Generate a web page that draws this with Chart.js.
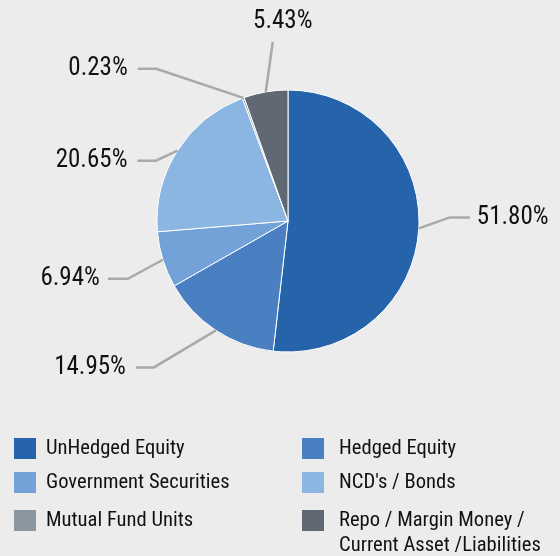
<!DOCTYPE html>
<html>
<head>
<meta charset="utf-8">
<script src="https://cdn.jsdelivr.net/npm/chart.js@4/dist/chart.umd.min.js"></script>
<style>
  html, body { margin:0; padding:0; background:#ebeceb; }
  #wrap { position:relative; width:560px; height:556px; overflow:hidden; background:#ebeceb; }
  #c { position:absolute; left:0; top:0; }
  .lg-box { position:absolute; width:22px; height:21px; }
  .lg-txt { position:absolute; font-family:"Liberation Sans Narrow","Roboto Condensed","DejaVu Sans Condensed",sans-serif; font-size:20.6px; line-height:25px; color:#111111; white-space:pre; }
</style>
</head>
<body>
<div id="wrap">
  <canvas id="c" width="560" height="556"></canvas>
</div>
<script>
// ---- data ----
const categories = ["UnHedged Equity", "Hedged Equity", "Government Securities", "NCD's / Bonds", "Mutual Fund Units", "Repo / Margin Money /\nCurrent Asset /Liabilities"];
const values = [51.80, 14.95, 6.94, 20.65, 0.23, 5.43];
const colors = ["#2563ab", "#4a7fc1", "#72a2d7", "#8cb6e2", "#8a96a0", "#5f6873"];

// ---- label leader layout (styling only) ----
const leaderLayout = [
  { dx: 31,  dy: -11, h: 20,    align: "left",   gap: 7 },
  { dx: -62, dy: 37,  h: -18,   align: "right",  gap: 10 },
  { dx: -35, dy: 19,  h: -20,   align: "right",  gap: 8 },
  { dx: -21.5, dy: 10, h: -18.5, align: "right", gap: 10 },
  { dx: -87, dy: -29, h: -18.5, align: "right",  gap: 10 },
  { dx: 7,   dy: -50, h: 0,     align: "center", gap: 20 }
];

const leaderPlugin = {
  id: "leaders",
  afterDatasetsDraw(chart) {
    const ctx = chart.ctx;
    const meta = chart.getDatasetMeta(0);
    ctx.save();
    ctx.strokeStyle = "#a9a9a9";
    ctx.lineWidth = 2.5;
    ctx.font = '25px "Liberation Sans Narrow","Roboto Condensed","DejaVu Sans Condensed",sans-serif';
    ctx.fillStyle = "#111111";
    ctx.textBaseline = "middle";
    meta.data.forEach((arc, i) => {
      const p = arc.getProps(["x","y","startAngle","endAngle","outerRadius"], true);
      const mid = (p.startAngle + p.endAngle) / 2;
      const sx = p.x + Math.cos(mid) * p.outerRadius;
      const sy = p.y + Math.sin(mid) * p.outerRadius;
      const L = leaderLayout[i];
      const ex = sx + L.dx, ey = sy + L.dy;
      const hx = ex + L.h;
      ctx.beginPath();
      ctx.moveTo(sx, sy);
      ctx.lineTo(ex, ey);
      if (L.h !== 0) ctx.lineTo(hx, ey);
      ctx.stroke();
      const txt = values[i].toFixed(2) + "%";
      if (L.align === "left") { ctx.textAlign = "left"; ctx.fillText(txt, hx + L.gap, ey); }
      else if (L.align === "right") { ctx.textAlign = "right"; ctx.fillText(txt, hx - L.gap, ey); }
      else { ctx.textAlign = "center"; ctx.fillText(txt, ex + 10, ey - L.gap); }
    });
    ctx.restore();
  }
};

new Chart(document.getElementById("c"), {
  type: "pie",
  data: {
    labels: categories,
    datasets: [{ data: values, backgroundColor: colors, borderColor: "#ffffff", borderWidth: 1 }]
  },
  options: {
    responsive: false,
    animation: false,
    radius: 131,
    layout: { padding: { left: 157, right: 141, top: 90, bottom: 204 } },
    plugins: { legend: { display: false }, tooltip: { enabled: false } }
  },
  plugins: [leaderPlugin]
});

// ---- HTML legend ----
const wrap = document.getElementById("wrap");
const rowTops = [438, 472, 510];
const colBoxX = [14, 302];
const colTxtX = [46, 339];
categories.forEach((name, i) => {
  const r = Math.floor(i / 2), c = i % 2;
  const b = document.createElement("div");
  b.className = "lg-box";
  b.style.left = colBoxX[c] + "px";
  b.style.top = rowTops[r] + "px";
  b.style.background = colors[i];
  wrap.appendChild(b);
  const t = document.createElement("div");
  t.className = "lg-txt";
  t.style.left = colTxtX[c] + "px";
  t.style.top = (rowTops[r] - 3) + "px";
  t.textContent = name;
  wrap.appendChild(t);
});
</script>
</body>
</html>
